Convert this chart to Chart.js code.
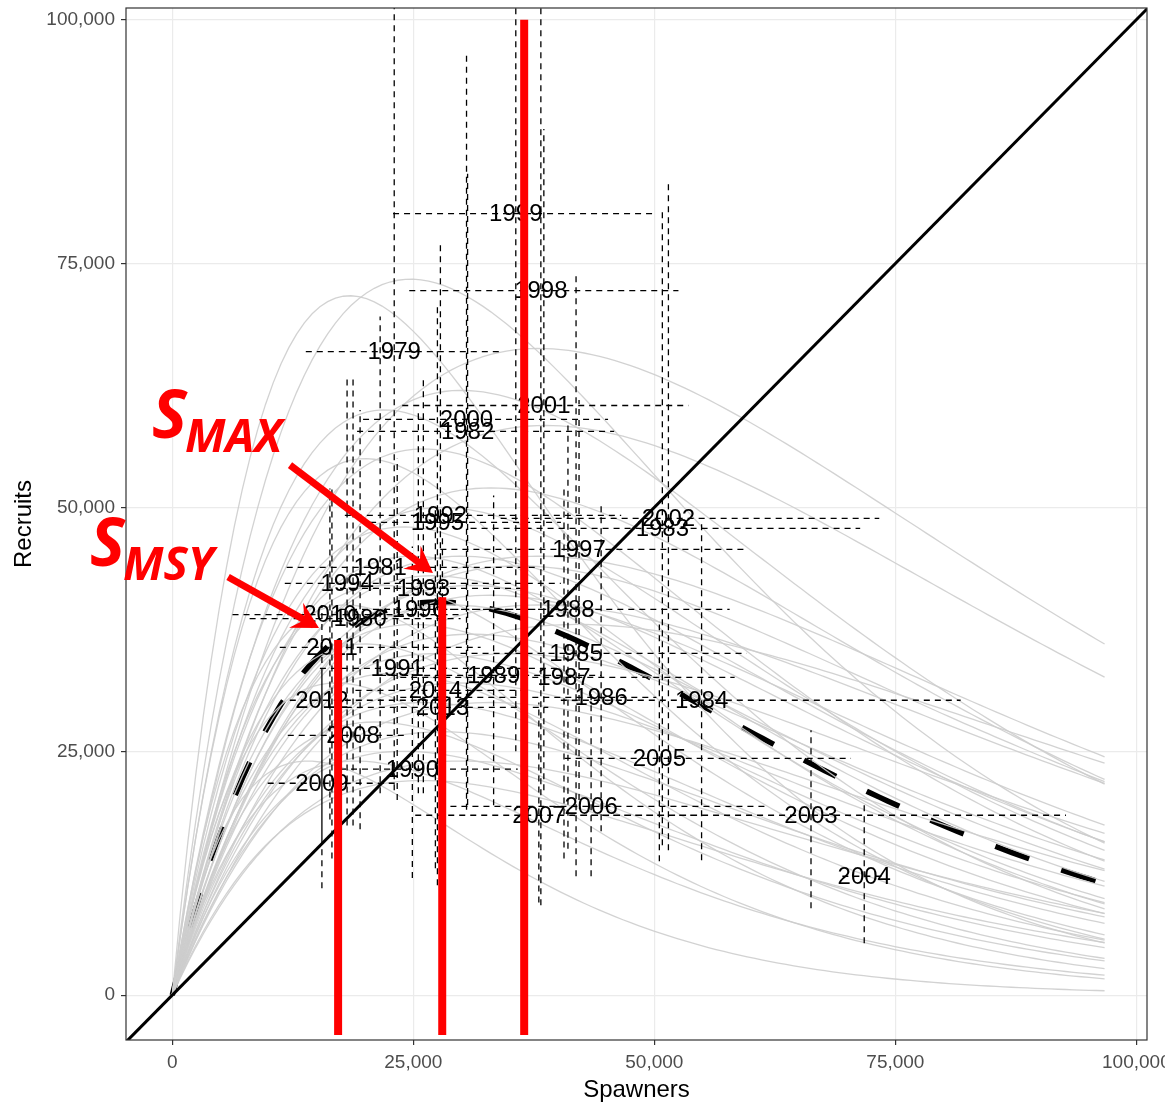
<!DOCTYPE html>
<html>
<head>
<meta charset="utf-8">
<script src="https://cdn.jsdelivr.net/npm/chart.js@4.4.0/dist/chart.umd.min.js"></script>
<style>
  html, body { margin: 0; padding: 0; background: #ffffff; }
  #wrap { width: 1165px; height: 1105px; }
</style>
</head>
<body>
<div id="wrap"><canvas id="chart" width="1165" height="1105"></canvas></div>
<script>
// ---- Brood-year spawner / recruit estimates with 95% intervals ----
const years      = ['1979','1980','1981','1982','1983','1984','1985','1986','1987','1988','1989','1990',
                    '1991','1992','1993','1994','1995','1996','1997','1998','1999','2000','2001','2002',
                    '2003','2004','2005','2006','2007','2008','2009','2010','2011','2012','2013','2014'];
const spawners   = [23020,19480,21560,30630,50830,54900,41880,44480,40630,41040,33330,24900,
                    23330,27810,26040,18130,27500,25520,42190,38230,35630,30520,38540,51460,
                    66250,71770,50520,43440,38020,18750,15520,16350,16560,15520,28020,27290];
const recruits   = [65980,38600,43850,57790,47850,30230,35040,30530,32580,39550,32790,23160,
                    33500,49180,41700,42210,48460,39550,45700,72230,80120,59020,60450,48870,
                    18440,12190,24280,19360,18440,26640,21720,39000,35660,30230,29510,31250];
const spawnersLo = [13850, 8020,11870,19170,30940,40300,29900,23650,23650,24480,21560,17400,
                    15310,17900,17400,11670,20520,17400,27810,24580,22900,19790,23850,34060,
                    42400,69500,40700,28850,25200,11980, 9900, 6250,11150,12190,18000,19000];
const spawnersHi = [34380,29900,37920,45830,71350,81770,59580,50210,58330,57810,44480,35830,
                    40310,46560,36150,40300,40310,38230,59580,52500,49900,45200,53540,73330,
                    92700,74000,70400,61670,54900,24380,23330,30000,31980,28000,39000,37000];
const recruitsLo = [21000,17000,20700,19500,15370,13830,12190,16800,14000,15000,19470,12000,
                    20000,21000,20700,17400,11270,20700,20000, 9220,25000,19000,21000,14850,
                     8910, 5330,13730,12190, 9500,17400,10960,18000,14000,16000,11270,13000];
const recruitsHi = [108000,60000,69570,84200,80430,48670,73770,50500,52000,58400,51230,46000,
                    55000,77350,63500,63300,71000,60000,61000,108000,108000,96500,88800,83300,
                    27150,19570,38000,31000,30000,63300,33090,51950,52000,40000,47000,50000];

// ---- Posterior Ricker draws, each given by where it peaks (spawners, recruits) ----
const drawPeakS = [18400,24700,38000,38700,30000,22000,26000,20000,33000,28000,38000,24000,30000,36000,
                   27000,22000,33000,18000,29000,38000,25000,31000,20000,27000,35000,23000,30000,17000,
                   26000,33000,21000,14000,28000,24000,19000,31000,42000,25000,30000,26000];
const drawPeakR = [71700,73400,66300,58400,62000,60000,56000,55000,52000,50000,45000,48000,45000,44000,
                   43000,42000,41000,40000,40000,40000,38000,37000,36000,35000,35000,33000,32000,32000,
                   30000,30000,28000,24000,27000,25000,24000,42000,38000,45000,24000,22000];
// Median Ricker fit
const medianPeakS = 27500;
const medianPeakR = 40300;
const curveMaxS   = 96700;

// Reference points: S_MSY, S_MAX and the equilibrium spawner level
const refS      = [17200, 28000, 36500];
const refTop    = [36400, 40800, 100000];
const refBottom = -4100;

// Axis ticks
const xTicks = [0, 25000, 50000, 75000, 100000];
const yTicks = [0, 25000, 50000, 75000, 100000];

// ---- helpers ----
function ricker(peakS, peakR) {
  const pts = [];
  const n = 120;
  for (let k = 0; k <= n; k++) {
    const s = curveMaxS * k / n;
    pts.push({ x: s, y: peakR * (s / peakS) * Math.exp(1 - s / peakS) });
  }
  return pts;
}
function withCommas(v) {
  return String(Math.round(v)).replace(/\B(?=(\d{3})+(?!\d))/g, ',');
}

const datasets = [];

// thin grey posterior curves
drawPeakS.forEach((ps, i) => {
  datasets.push({
    id: 'draw' + i, data: ricker(ps, drawPeakR[i]),
    borderColor: 'rgba(205,205,205,0.9)', borderWidth: 1.3,
    pointRadius: 0, tension: 0, order: 40
  });
});

// median fit, heavy dashed
datasets.push({
  id: 'median', data: ricker(medianPeakS, medianPeakR),
  borderColor: '#000000', borderWidth: 5.5, borderDash: [36, 34],
  pointRadius: 0, tension: 0, order: 50
});

// horizontal (spawner) intervals
const hBars = [];
years.forEach((y, i) => {
  hBars.push({ x: spawnersLo[i], y: recruits[i] }, { x: spawnersHi[i], y: recruits[i] }, { x: spawnersHi[i], y: null });
});
datasets.push({
  id: 'ciH', data: hBars, borderColor: '#000000', borderWidth: 1.3, borderDash: [6, 5],
  pointRadius: 0, spanGaps: false, order: 31
});

// vertical (recruit) intervals
const vBars = [];
years.forEach((y, i) => {
  vBars.push({ x: spawners[i], y: recruitsLo[i] }, { x: spawners[i], y: recruitsHi[i] }, { x: spawners[i], y: null });
});
datasets.push({
  id: 'ciV', data: vBars, borderColor: '#000000', borderWidth: 1.3, borderDash: [6, 5],
  pointRadius: 0, spanGaps: false, order: 30
});

// replacement line
datasets.push({
  id: 'oneToOne', data: [{ x: -6000, y: -6000 }, { x: 103000, y: 103000 }],
  borderColor: '#000000', borderWidth: 3, pointRadius: 0, order: 10
});

// reference spawner levels
refS.forEach((s, i) => {
  datasets.push({
    id: 'ref' + i, data: [{ x: s, y: refBottom }, { x: s, y: refTop[i] }],
    borderColor: '#ff0000', borderWidth: 8, borderCapStyle: 'butt', pointRadius: 0, order: 0
  });
});

// year labels, drawn right after the interval lines
const yearLabels = {
  id: 'yearLabels',
  afterDatasetDraw(chart, args) {
    if (chart.data.datasets[args.index].id !== 'ciV') return;
    const { ctx, scales: { x, y } } = chart;
    ctx.save();
    ctx.beginPath();
    ctx.rect(chart.chartArea.left, chart.chartArea.top, chart.chartArea.width, chart.chartArea.height);
    ctx.clip();
    ctx.font = '24px "Liberation Sans", Arial, sans-serif';
    ctx.fillStyle = '#000000';
    ctx.textAlign = 'center';
    ctx.textBaseline = 'middle';
    years.forEach((yr, i) => {
      ctx.fillText(yr, x.getPixelForValue(spawners[i]), y.getPixelForValue(recruits[i]) + 1);
    });
    ctx.restore();
  }
};

// panel border plus S_MAX / S_MSY callouts
const sMaxLabel = { s: -2100, r: 57100, sub: 'MAX' };
const sMsyLabel = { s: -8540, r: 44000, sub: 'MSY' };
const arrows = [
  { fromS: 12210, fromR: 54340, toS: 27040, toR: 43270 },
  { fromS: 5790,  fromR: 42860, toS: 15220, toR: 37630 }
];
const overlay = {
  id: 'overlay',
  afterDraw(chart) {
    const { ctx, chartArea: a, scales: { x, y } } = chart;
    ctx.save();
    ctx.strokeStyle = '#333333';
    ctx.lineWidth = 1.2;
    ctx.strokeRect(a.left, a.top, a.width, a.height);

    ctx.fillStyle = '#ff0000';
    ctx.strokeStyle = '#ff0000';
    [sMaxLabel, sMsyLabel].forEach(l => {
      const px = x.getPixelForValue(l.s), py = y.getPixelForValue(l.r);
      ctx.textAlign = 'left';
      ctx.textBaseline = 'alphabetic';
      ctx.font = 'italic bold 66px "Open Sans", "Liberation Sans", sans-serif';
      ctx.fillText('S', px, py);
      const w = ctx.measureText('S').width;
      ctx.font = 'italic bold 46px "Open Sans", "Liberation Sans", sans-serif';
      ctx.fillText(l.sub, px + w - 2, py + 14);
    });

    arrows.forEach(ar => {
      const x0 = x.getPixelForValue(ar.fromS), y0 = y.getPixelForValue(ar.fromR);
      const x1 = x.getPixelForValue(ar.toS),   y1 = y.getPixelForValue(ar.toR);
      const ang = Math.atan2(y1 - y0, x1 - x0);
      ctx.lineWidth = 7;
      ctx.lineCap = 'butt';
      ctx.beginPath();
      ctx.moveTo(x0, y0);
      ctx.lineTo(x1 - 6 * Math.cos(ang), y1 - 6 * Math.sin(ang));
      ctx.stroke();
      const head = 30, spread = 0.5;
      ctx.beginPath();
      ctx.moveTo(x1, y1);
      ctx.lineTo(x1 - head * Math.cos(ang - spread), y1 - head * Math.sin(ang - spread));
      ctx.lineTo(x1 - 0.55 * head * Math.cos(ang), y1 - 0.55 * head * Math.sin(ang));
      ctx.lineTo(x1 - head * Math.cos(ang + spread), y1 - head * Math.sin(ang + spread));
      ctx.closePath();
      ctx.fill();
    });
    ctx.restore();
  }
};

Chart.defaults.font.family = '"Liberation Sans", Arial, sans-serif';

new Chart(document.getElementById('chart'), {
  type: 'line',
  data: { datasets },
  options: {
    responsive: false,
    animation: false,
    events: [],
    devicePixelRatio: 1,
    layout: { padding: { top: 8, right: 18, bottom: 0, left: 0 } },
    plugins: { legend: { display: false }, tooltip: { enabled: false } },
    scales: {
      x: {
        type: 'linear', min: -4800, max: 101100,
        afterBuildTicks: s => { s.ticks = xTicks.map(v => ({ value: v })); },
        afterFit: s => { s.height = 65; s.paddingLeft = 0; s.paddingRight = 0; },
        ticks: { callback: v => withCommas(v), color: '#4d4d4d', font: { size: 19 }, padding: 6,
                 maxRotation: 0, autoSkip: false },
        grid: { color: '#ebebeb', lineWidth: 1.2, tickLength: 5, tickColor: '#333333', tickWidth: 1.2 },
        border: { display: false },
        title: { display: true, text: 'Spawners', color: '#000000', font: { size: 24 },
                 padding: { top: 0, bottom: 0 } }
      },
      y: {
        type: 'linear', min: -4600, max: 101200,
        afterBuildTicks: s => { s.ticks = yTicks.map(v => ({ value: v })); },
        afterFit: s => { s.width = 126; s.paddingTop = 0; s.paddingBottom = 0; },
        ticks: { callback: v => withCommas(v), color: '#4d4d4d', font: { size: 19 }, padding: 6 },
        grid: { color: '#ebebeb', lineWidth: 1.2, tickLength: 5, tickColor: '#333333', tickWidth: 1.2 },
        border: { display: false },
        title: { display: true, text: 'Recruits', color: '#000000', font: { size: 24 },
                 padding: { top: 10, bottom: 0 } }
      }
    }
  },
  plugins: [yearLabels, overlay]
});
</script>
</body>
</html>
